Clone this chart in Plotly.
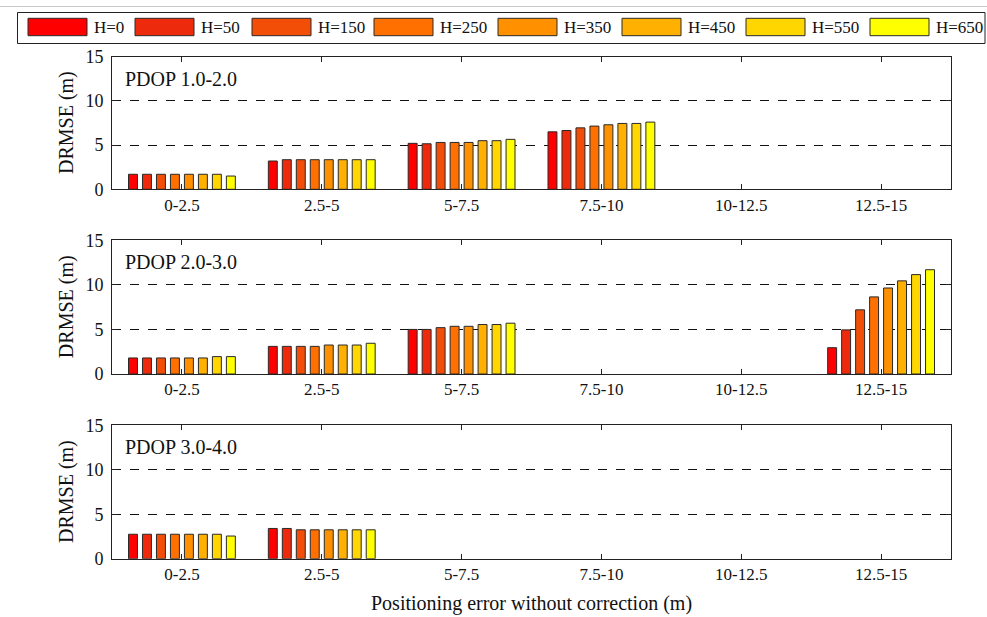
import plotly.graph_objects as go

categories = ["0-2.5", "2.5-5", "5-7.5", "7.5-10", "10-12.5", "12.5-15"]
heights = ["H=0", "H=50", "H=150", "H=250", "H=350", "H=450", "H=550", "H=650"]
panel_titles = ["PDOP 1.0-2.0", "PDOP 2.0-3.0", "PDOP 3.0-4.0"]

# values per category (one value per H), None = no data
pdop_1_2 = [
    [1.7, 1.7, 1.7, 1.7, 1.7, 1.7, 1.7, 1.5],
    [3.2, 3.35, 3.35, 3.35, 3.35, 3.35, 3.35, 3.35],
    [5.2, 5.15, 5.3, 5.3, 5.3, 5.5, 5.5, 5.65],
    [6.5, 6.65, 6.95, 7.15, 7.3, 7.45, 7.45, 7.6],
    [None] * 8,
    [None] * 8,
]
pdop_2_3 = [
    [1.8, 1.8, 1.8, 1.8, 1.8, 1.8, 1.95, 1.95],
    [3.1, 3.1, 3.1, 3.1, 3.25, 3.25, 3.25, 3.45],
    [5.0, 5.0, 5.2, 5.35, 5.35, 5.55, 5.55, 5.7],
    [None] * 8,
    [None] * 8,
    [2.95, 4.95, 7.2, 8.65, 9.65, 10.45, 11.15, 11.7],
]
pdop_3_4 = [
    [2.75, 2.75, 2.75, 2.75, 2.75, 2.75, 2.75, 2.55],
    [3.4, 3.4, 3.25, 3.25, 3.25, 3.25, 3.25, 3.25],
    [None] * 8,
    [None] * 8,
    [None] * 8,
    [None] * 8,
]
panels = [pdop_1_2, pdop_2_3, pdop_3_4]

y_ticks = [0, 5, 10, 15]
colors = ["#FF0000", "#EE2A0C", "#F24E08", "#FF7000", "#FF9000", "#FFB000", "#FFD600", "#FFFF00"]

W, H = 987, 617
FONT = "Liberation Serif"

def px(x):
    return x / W

def py(y):
    return 1 - y / H

fig = go.Figure()

x_dom = [px(112), px(951)]
panel_pix = [(56.7, 189.3), (240.3, 374), (425.3, 558.7)]

for pi, data in enumerate(panels):
    ax = "" if pi == 0 else str(pi + 1)
    for hi, hname in enumerate(heights):
        vals = [data[ci][hi] for ci in range(len(categories))]
        fig.add_trace(go.Bar(
            x=categories, y=vals, name=hname, showlegend=False,
            marker=dict(color=colors[hi], line=dict(color="#2a2a2a", width=1)),
            xaxis="x" + ax, yaxis="y" + ax,
        ))
    top, bot = panel_pix[pi]
    fig.update_layout(**{
        "xaxis" + ax: dict(
            domain=x_dom, anchor="y" + ax, type="category",
            categoryorder="array", categoryarray=categories,
            range=[-0.5, len(categories) - 0.5], automargin=False,
            showline=True, linecolor="#222", linewidth=1, mirror="all",
            ticks="inside", ticklen=5, tickcolor="#222",
            showgrid=False, zeroline=False, ticklabelstandoff=0,
            tickfont=dict(family=FONT, size=17, color="#111"),
        ),
        "yaxis" + ax: dict(
            domain=[py(bot), py(top)], anchor="x" + ax,
            range=[0, 15], tickvals=y_ticks, automargin=False,
            showline=True, linecolor="#222", linewidth=1, mirror="all",
            ticks="inside", ticklen=5, tickcolor="#222",
            showgrid=True, gridcolor="#111", griddash="dash", gridwidth=1,
            zeroline=False, ticklabelstandoff=4,
            tickfont=dict(family=FONT, size=18, color="#111"),
        ),
    })
    fig.add_annotation(x=px(123), y=py(top + 22), xref="paper", yref="paper",
                       text=panel_titles[pi], showarrow=False, xanchor="left",
                       yanchor="middle", font=dict(family=FONT, size=20, color="#111"))
    fig.add_annotation(x=px(66), y=py((top + bot) / 2), xref="paper", yref="paper",
                       text="DRMSE (m)", textangle=-90, showarrow=False,
                       xanchor="center", yanchor="middle",
                       font=dict(family=FONT, size=20, color="#111"))

fig.add_annotation(x=px(531), y=py(603), xref="paper", yref="paper",
                   text="Positioning error without correction (m)", showarrow=False,
                   xanchor="center", yanchor="middle",
                   font=dict(family=FONT, size=20, color="#111"))

# thin frame line at top of image
fig.add_shape(type="line", xref="paper", yref="paper",
              x0=0, x1=1, y0=py(6.5), y1=py(6.5),
              line=dict(color="#c8c8c8", width=1))

# manual legend
fig.add_shape(type="rect", xref="paper", yref="paper",
              x0=px(17.5), x1=px(985), y0=py(43.5), y1=py(12.5),
              line=dict(color="#222", width=1), fillcolor="white")
sw_left = [28, 135, 252, 374, 498, 622, 746, 870]
for i, hname in enumerate(heights):
    x0 = sw_left[i]
    fig.add_shape(type="rect", xref="paper", yref="paper",
                  x0=px(x0), x1=px(x0 + 59), y0=py(35.7), y1=py(18.3),
                  line=dict(color="#2a2a2a", width=1), fillcolor=colors[i])
    fig.add_annotation(x=px(x0 + 64), y=py(27), xref="paper", yref="paper",
                       text=hname, showarrow=False, xanchor="left", yanchor="middle",
                       font=dict(family=FONT, size=17, color="#111"))

fig.update_layout(
    width=W, height=H, margin=dict(l=0, r=0, t=0, b=0),
    paper_bgcolor="white", plot_bgcolor="white",
    barmode="group", bargap=0.2, bargroupgap=0.36,
)

fig.write_html("out.html")
